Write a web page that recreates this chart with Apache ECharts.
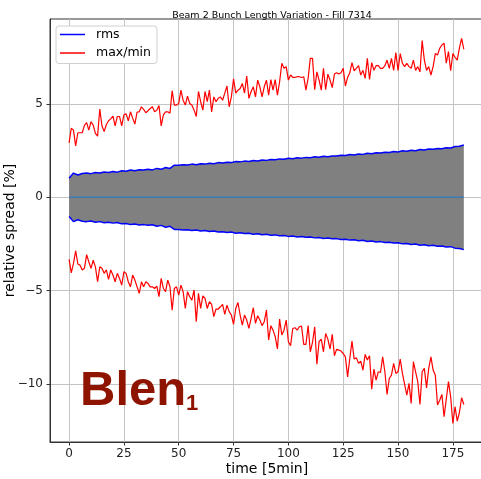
<!DOCTYPE html>
<html><head><meta charset="utf-8">
<script src="https://cdn.jsdelivr.net/npm/echarts@6/dist/echarts.min.js"></script>
<style>html,body{margin:0;padding:0;background:#fff}#c{width:481px;height:479px}</style>
</head><body><div id="c"></div>
<script>
const xTicks = [0, 25, 50, 75, 100, 125, 150, 175];
const yTicks = [-10, -5, 0, 5];
const maxVals = [2.92,3.70,3.60,2.75,3.46,3.46,3.46,3.85,4.00,3.60,
 4.05,3.87,3.43,3.28,4.73,3.82,3.52,3.90,4.10,4.20,
 4.35,3.83,4.33,4.33,3.83,4.42,4.47,4.10,4.58,4.24,
 3.92,4.57,4.58,4.85,4.71,4.53,4.64,4.76,4.85,4.58,
 4.67,4.92,3.83,4.42,4.58,4.58,4.50,5.71,4.94,4.94,
 5.03,5.74,5.20,4.94,5.42,5.03,4.94,4.67,4.33,5.67,
 5.12,4.67,5.67,5.12,5.74,4.58,5.38,5.12,5.30,5.38,
 5.20,5.58,5.96,4.85,5.38,6.35,5.58,5.74,5.83,6.10,
 5.58,6.50,5.30,5.67,5.92,5.38,6.28,5.92,5.38,5.92,
 6.28,5.47,6.31,5.74,6.31,5.47,6.19,7.18,6.91,7.00,
 6.28,6.55,6.42,6.42,6.46,6.46,6.42,6.46,5.74,6.37,
 7.44,7.44,5.76,6.72,6.28,5.74,6.91,5.76,6.60,6.28,
 5.88,6.60,6.67,6.60,6.67,6.91,5.96,6.42,6.67,7.21,
 6.78,6.91,7.05,6.55,6.80,6.37,7.44,6.31,7.21,6.80,
 7.05,7.05,6.91,6.91,7.05,7.35,6.91,7.44,6.80,7.75,
 6.80,7.70,7.18,7.00,7.18,7.00,6.91,7.35,6.80,7.00,
 6.72,8.39,7.35,6.80,7.00,6.55,7.00,7.70,7.62,7.98,
 8.16,8.25,7.18,7.80,6.78,7.70,7.50,7.35,8.00,8.51,
 7.93];
const minVals = [-3.32,-4.04,-3.54,-2.86,-3.57,-3.63,-3.89,-3.80,-3.07,-3.45,
 -3.80,-3.36,-3.72,-4.52,-3.72,-3.80,-4.07,-3.88,-4.39,-3.89,
 -4.16,-4.52,-4.07,-4.34,-4.70,-3.98,-4.07,-4.52,-4.79,-4.16,
 -4.43,-4.79,-5.14,-4.52,-4.79,-4.52,-4.61,-4.79,-4.79,-4.88,
 -4.75,-5.32,-4.34,-4.88,-5.05,-4.43,-4.79,-6.04,-4.88,-4.79,
 -5.23,-4.70,-5.05,-5.95,-5.05,-5.32,-5.50,-4.96,-6.66,-5.14,
 -5.95,-5.27,-5.41,-5.95,-5.59,-5.73,-6.39,-5.98,-5.98,-5.86,
 -5.73,-6.27,-5.77,-6.12,-6.30,-6.80,-5.95,-5.63,-6.30,-6.84,
 -6.30,-6.57,-7.02,-6.48,-5.91,-6.75,-6.34,-6.57,-6.87,-6.66,
 -6.04,-7.64,-6.87,-7.11,-7.46,-8.12,-6.52,-7.37,-7.11,-6.57,
 -7.73,-7.94,-7.02,-6.98,-7.11,-6.93,-6.89,-7.87,-7.87,-6.87,
 -8.27,-7.77,-6.93,-8.94,-7.73,-7.59,-8.27,-7.29,-7.59,-8.12,
 -7.34,-8.48,-8.13,-8.18,-8.23,-8.36,-8.54,-9.61,-8.63,-7.70,
 -8.66,-8.59,-8.89,-8.77,-9.25,-8.41,-8.71,-8.48,-10.27,-9.20,
 -9.79,-9.34,-9.38,-8.54,-9.34,-10.55,-9.70,-9.52,-8.89,-9.43,
 -9.34,-8.66,-9.43,-10.02,-10.59,-9.96,-11.04,-8.80,-9.34,-9.87,
 -11.09,-9.34,-9.16,-10.20,-9.16,-8.54,-9.25,-9.52,-11.12,-10.86,
 -10.55,-11.75,-10.80,-9.87,-10.68,-12.11,-11.21,-11.98,-11.52,-10.73,
 -11.09];
const rmsTimes = [0,2,4,6,8,10,12,14,16,18,20,22,24,26,28,30,32,34,36,38,
 40,42,44,46,48,50,52,54,56,58,60,62,64,66,68,70,72,74,76,78,
 80,82,84,86,88,90,92,94,96,98,100,102,104,106,108,110,112,114,116,118,
 120,122,124,126,128,130,132,134,136,138,140,142,144,146,148,150,152,154,156,158,
 160,162,164,166,168,170,172,174,176,178,180];
const rmsVals = [1.02,1.30,1.20,1.28,1.30,1.27,1.33,1.30,1.36,1.33,
 1.38,1.35,1.42,1.40,1.46,1.43,1.48,1.46,1.50,1.47,
 1.55,1.50,1.60,1.55,1.72,1.72,1.75,1.73,1.78,1.75,
 1.80,1.78,1.83,1.80,1.86,1.84,1.88,1.86,1.92,1.90,
 1.94,1.92,1.97,1.95,2.00,1.98,2.03,2.01,2.06,2.04,
 2.09,2.07,2.12,2.10,2.14,2.12,2.17,2.15,2.20,2.18,
 2.22,2.21,2.26,2.24,2.29,2.27,2.32,2.30,2.36,2.34,
 2.39,2.37,2.42,2.40,2.45,2.43,2.49,2.47,2.52,2.50,
 2.56,2.54,2.59,2.57,2.62,2.60,2.66,2.64,2.72,2.74,
 2.80];
const meanTimes = [0, 180];
const meanVals = [0, 0];

const FONT = '"DejaVu Sans", sans-serif';
const maxData = maxVals.map((v, i) => [i, v]);
const minData = minVals.map((v, i) => [i, v]);
const rmsUp = rmsTimes.map((t, i) => [t, rmsVals[i]]);
const rmsDn = rmsTimes.map((t, i) => [t, -rmsVals[i]]);
const meanData = meanTimes.map((t, i) => [t, meanVals[i]]);
const fmt = v => (v < 0 ? '\u2212' + Math.abs(v) : String(v));

const chart = echarts.init(document.getElementById('c'), null, {renderer: 'canvas'});
chart.setOption({
  animation: false,
  backgroundColor: '#fff',
  title: {
    text: 'Beam 2 Bunch Length Variation - Fill 7314',
    left: 267, top: 6, textAlign: 'center',
    textStyle: {fontFamily: FONT, fontSize: 9.5, fontWeight: 'normal', color: '#000'}
  },
  grid: {left: 50, top: 19, width: 434, height: 423, show: true, borderColor: '#333', borderWidth: 1,
         backgroundColor: 'transparent', containLabel: false, outerBoundsMode: 'none'},
  legend: {
    left: 56, top: 26, orient: 'vertical',
    data: [{name: 'rms'}, {name: 'max/min'}],
    icon: 'rect', itemWidth: 25, itemHeight: 1.5, itemGap: 5.5,
    padding: [2, 6, 4, 4],
    backgroundColor: '#fff', borderColor: '#d0d0d0', borderWidth: 1, borderRadius: 3,
    textStyle: {fontFamily: FONT, fontSize: 12.5, color: '#000', padding: [0, 0, 0, 6]}
  },
  xAxis: {
    type: 'value', min: -8.7, max: 189.2,
    name: 'time [5min]', nameLocation: 'middle', nameGap: 20, nameMoveOverlap: false,
    nameTextStyle: {fontFamily: FONT, fontSize: 14, color: '#000'},
    axisLine: {show: true, onZero: false, lineStyle: {color: '#333', width: 1}},
    axisTick: {show: true, length: 3.5, lineStyle: {color: '#333'}, customValues: xTicks},
    axisLabel: {customValues: xTicks, fontFamily: FONT, fontSize: 12, color: '#222', margin: 6},
    splitLine: {show: true, lineStyle: {color: '#c4c4c4', width: 1}}
  },
  yAxis: {
    type: 'value', min: -13.1, max: 9.55,
    name: 'relative spread [%]', nameLocation: 'middle', nameGap: 33, nameMoveOverlap: false,
    nameTextStyle: {fontFamily: FONT, fontSize: 14, color: '#000'},
    axisLine: {show: true, onZero: false, lineStyle: {color: '#333', width: 1}},
    axisTick: {show: true, length: 3.5, lineStyle: {color: '#333'}, customValues: yTicks},
    axisLabel: {customValues: yTicks, fontFamily: FONT, fontSize: 12, color: '#222', margin: 7, formatter: fmt},
    splitLine: {show: true, lineStyle: {color: '#c4c4c4', width: 1}}
  },
  series: [
    {name: 'rms', type: 'line', data: rmsUp, showSymbol: false, z: 3,
     lineStyle: {color: '#0000ff', width: 1.5}, itemStyle: {color: '#0000ff'},
     areaStyle: {color: '#808080', opacity: 1, origin: 'auto'}},
    {name: 'rms', type: 'line', data: rmsDn, showSymbol: false, z: 3,
     lineStyle: {color: '#0000ff', width: 1.5}, itemStyle: {color: '#0000ff'},
     areaStyle: {color: '#808080', opacity: 1, origin: 'auto'}},
    {name: 'mean', type: 'line', data: meanData, showSymbol: false, z: 4,
     lineStyle: {color: '#3d7ab3', width: 1.5}, itemStyle: {color: '#3d7ab3'}},
    {name: 'max/min', type: 'line', data: maxData, showSymbol: false, z: 5,
     lineStyle: {color: '#ff0000', width: 1.2}, itemStyle: {color: '#ff0000'}},
    {name: 'max/min', type: 'line', data: minData, showSymbol: false, z: 5,
     lineStyle: {color: '#ff0000', width: 1.2}, itemStyle: {color: '#ff0000'}}
  ],
  graphic: [
    {type: 'text', left: 80, top: 367, z: 100,
     style: {text: 'Blen', font: 'bold 49px "Liberation Sans", Arial, sans-serif', fill: '#8f1400'}},
    {type: 'text', left: 186, top: 393, z: 100,
     style: {text: '1', font: 'bold 22px "Liberation Sans", Arial, sans-serif', fill: '#8f1400'}}
  ]
});
</script></body></html>
